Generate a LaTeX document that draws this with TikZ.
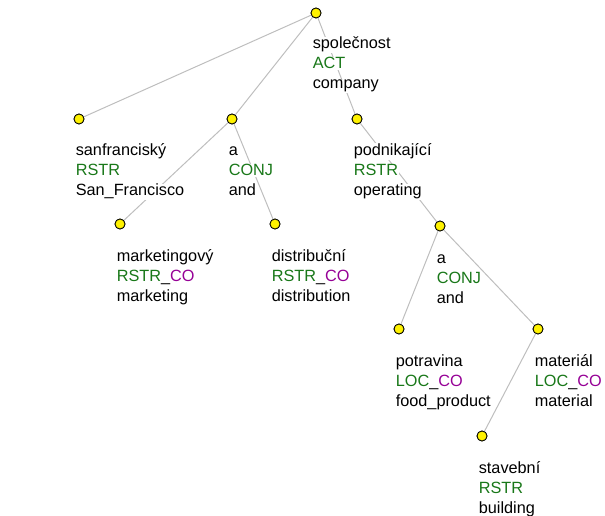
\documentclass[tikz,border=0pt]{standalone}
\usepackage{fontspec}
\setmainfont{Liberation Sans}
\usepackage{xcolor}
\usetikzlibrary{positioning}
\definecolor{fgreen}{RGB}{25,120,25}
\definecolor{fpurple}{RGB}{150,0,150}
\definecolor{edgegray}{RGB}{190,190,190}
\newcommand{\func}[1]{\textcolor{fgreen}{#1}}
\newcommand{\cosuf}{\_\textcolor{fpurple}{CO}}
\newcommand{\wl}[1]{{\setlength{\fboxsep}{0.4pt}\colorbox{white}{#1}}}

\begin{document}
\begin{tikzpicture}[x=0.75pt,y=-0.75pt,
    tnode/.style={circle,draw=black,fill=yellow,line width=0.6pt,inner sep=0pt,minimum size=7.5pt},
    tlabel/.style={anchor=base west,align=left,inner sep=0pt,
      font=\fontsize{12.2}{15}\selectfont},
    tedge/.style={draw=edgegray,line width=0.75pt}]
            \useasboundingbox (0,0) rectangle (605,516);

            \node[tnode] (root) at (316, 13) {};
            \node[tnode] (sanfr) at (79, 119) {};
            \node[tnode] (conja) at (232, 119) {};
            \node[tnode] (podnik) at (357, 119) {};
            \node[tnode] (market) at (120, 224) {};
            \node[tnode] (distr) at (275, 224) {};
            \node[tnode] (conjb) at (440, 226) {};
            \node[tnode] (potrav) at (399, 329) {};
            \node[tnode] (mater) at (538, 329) {};
            \node[tnode] (staveb) at (482, 436) {};

            \draw[tedge] (root) -- (sanfr);
            \draw[tedge] (root) -- (conja);
            \draw[tedge] (root) -- (podnik);
            \draw[tedge] (conja) -- (market);
            \draw[tedge] (conja) -- (distr);
            \draw[tedge] (podnik) -- (conjb);
            \draw[tedge] (conjb) -- (potrav);
            \draw[tedge] (conjb) -- (mater);
            \draw[tedge] (mater) -- (staveb);

            \node[tlabel] (root-t) at (312, 89) {\wl{společnost}\\\wl{\func{ACT}}\\\wl{company}};
            \node[tlabel] (sanfr-t) at (75, 196) {\wl{sanfranciský}\\\wl{\func{RSTR}}\\\wl{San\_Francisco}};
            \node[tlabel] (conja-t) at (228, 196) {\wl{a}\\\wl{\func{CONJ}}\\\wl{and}};
            \node[tlabel] (podnik-t) at (353, 196) {\wl{podnikající}\\\wl{\func{RSTR}}\\\wl{operating}};
            \node[tlabel] (market-t) at (116, 301) {\wl{marketingový}\\\wl{\func{RSTR}\cosuf}\\\wl{marketing}};
            \node[tlabel] (distr-t) at (271, 301) {\wl{distribuční}\\\wl{\func{RSTR}\cosuf}\\\wl{distribution}};
            \node[tlabel] (conjb-t) at (436, 303) {\wl{a}\\\wl{\func{CONJ}}\\\wl{and}};
            \node[tlabel] (potrav-t) at (395, 406) {\wl{potravina}\\\wl{\func{LOC}\cosuf}\\\wl{food\_product}};
            \node[tlabel] (mater-t) at (534, 406) {\wl{materiál}\\\wl{\func{LOC}\cosuf}\\\wl{material}};
            \node[tlabel] (staveb-t) at (478, 513) {\wl{stavební}\\\wl{\func{RSTR}}\\\wl{building}};

            \foreach \n in {root,sanfr,conja,podnik,market,distr,conjb,potrav,mater,staveb}
              \node[tnode] at (\n) {};
          \end{tikzpicture}
\end{document}
